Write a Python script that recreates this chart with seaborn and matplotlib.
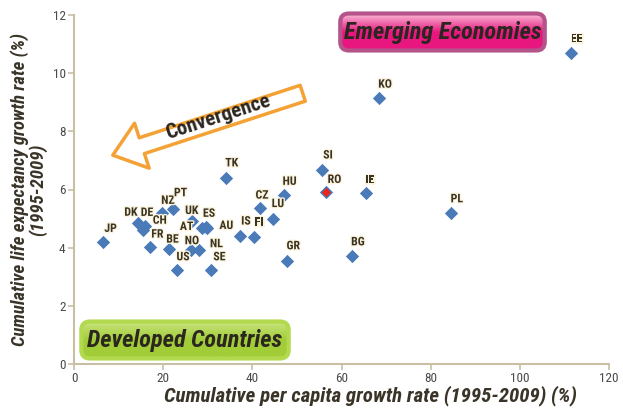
import numpy as np
import pandas as pd
import matplotlib
matplotlib.use("Agg")
import matplotlib.pyplot as plt
import matplotlib.patheffects as pe
from matplotlib import font_manager as fm
from matplotlib.patches import FancyBboxPatch, FancyArrowPatch
import seaborn as sns

# data
countries = ["EE", "KO", "PL", "IE", "BG", "SI", "RO", "HU", "TK", "CZ", "LU", "GR",
             "IS", "FI", "AU", "ES", "AT", "UK", "NZ", "PT", "DK", "DE", "CH", "FR",
             "BE", "JP", "US", "NO", "NL", "SE"]
gdp_growth = [111.4, 68.4, 84.5, 65.4, 62.3, 55.6, 56.6, 47.0, 34.0, 41.7, 44.6, 47.8,
              37.2, 40.4, 29.9, 29.6, 28.6, 26.4, 19.7, 22.3, 14.3, 15.9, 15.4, 17.1,
              21.4, 6.6, 23.1, 26.2, 28.1, 30.8]
life_growth = [10.7, 9.14, 5.2, 5.88, 3.72, 6.67, 5.9, 5.8, 6.4, 5.36, 5.0, 3.55,
               4.4, 4.36, 4.66, 4.7, 4.66, 4.9, 5.18, 5.34, 4.84, 4.73, 4.6, 4.02,
               3.95, 4.18, 3.24, 3.93, 3.93, 3.24]
highlight = ["RO"]

# label offsets in pixels (layout only)
label_off = {"EE": (6, 14), "KO": (6, 14), "PL": (6, 14), "IE": (4, 13), "BG": (6, 14),
             "SI": (6, 15), "RO": (8, 13), "HU": (6, 14), "TK": (6, 15), "CZ": (2, 13),
             "LU": (5, 15), "GR": (6, 15), "IS": (6, 15), "FI": (5, 15), "AU": (19, 3),
             "ES": (3, 14), "AT": (-15, 2), "UK": (0, 11), "NZ": (6, 13), "PT": (7, 16),
             "DK": (-7, 11), "DE": (2, 14), "CH": (17, 10), "FR": (7, 13), "BE": (3, 10),
             "JP": (7, 14), "US": (6, 13), "NO": (1, 9), "NL": (17, 6), "SE": (8, 13)}

df = pd.DataFrame({"country": countries, "gdp": gdp_growth, "life": life_growth})
hl = df[df["country"].isin(highlight)]

sns.set_style("white")

# pick a narrow face if one is around, the original uses condensed type
names = {f.name for f in fm.fontManager.ttflist}
narrow, stretch = "DejaVu Sans", "normal"
for cand in ["Liberation Sans Narrow", "Roboto Condensed", "Open Sans Condensed"]:
    if cand in names:
        narrow = cand
        break
else:
    if any(f.name == "DejaVu Sans" and f.stretch == "condensed" for f in fm.fontManager.ttflist):
        stretch = "condensed"
plt.rcParams["font.family"] = [narrow, "DejaVu Sans"]
plt.rcParams["font.stretch"] = stretch

W, H = 623, 409
fig = plt.figure(figsize=(W / 100, H / 100), dpi=100)
ax = fig.add_axes([74 / W, 45 / H, 535 / W, 349 / H])

axis_col = "#c8bfa4"
blue = "#4a7ab8"
sns.scatterplot(data=df, x="gdp", y="life", color=blue,
                marker="D", s=46, linewidth=0, legend=False, ax=ax, zorder=3)
sns.scatterplot(data=hl, x="gdp", y="life", color="#e8261e",
                marker="D", s=22, linewidth=0, legend=False, ax=ax, zorder=3.5)

halo = [pe.withStroke(linewidth=2, foreground="#fbf4df")]
for c, x, y in zip(countries, gdp_growth, life_growth):
    dx, dy = label_off[c]
    ax.annotate(c, (x, y), xytext=(dx, dy), textcoords="offset pixels",
                ha="center", va="center", fontsize=8.5, fontweight="bold",
                color="#3b3322", path_effects=halo, zorder=4)

ax.set_xlim(0, 120)
ax.set_ylim(0, 12)
ax.set_xticks(range(0, 121, 20))
ax.set_yticks(range(0, 13, 2))
for side in ["top", "right"]:
    ax.spines[side].set_visible(False)
for side in ["left", "bottom"]:
    ax.spines[side].set_color(axis_col)
    ax.spines[side].set_linewidth(1.5)
ax.tick_params(axis="both", colors=axis_col, labelcolor="#4a4a4a", labelsize=9.5,
               direction="out", length=4, width=1.2, left=True, bottom=True, pad=2)

ax.set_xlabel("Cumulative per capita growth rate (1995-2009) (%)", fontsize=15,
              fontweight="heavy", style="italic", color="#3a3428", labelpad=0,
              x=(370 - 74) / 535)
ax.set_ylabel("Cumulative life expectancy growth rate (%)\n(1995-2009)", fontsize=13.5,
              fontweight="heavy", style="italic", color="#3a3428", labelpad=4,
              linespacing=0.95)

# convergence arrow
arr = FancyArrowPatch((51.3, 9.31), (8.7, 7.18),
                      arrowstyle="simple,head_length=22,head_width=34,tail_width=12",
                      mutation_scale=1, shrinkA=0, shrinkB=0,
                      facecolor="white", edgecolor="#f4a235", linewidth=2.5, zorder=2)
ax.add_patch(arr)
ax.text(32.3, 8.5, "Convergence", rotation=18, ha="center", va="center",
        fontsize=15, fontweight="heavy", color="#2b2620", zorder=3,
        rotation_mode="anchor")


def label_box(x0, y0, x1, y1, top, bottom, edge, text):
    bax = fig.add_axes([x0 / W, 1 - y1 / H, (x1 - x0) / W, (y1 - y0) / H])
    bax.set_axis_off()
    bax.set_xlim(0, 1)
    bax.set_ylim(0, 1)
    grad = np.linspace(0, 1, 64)[:, None]
    cmap = matplotlib.colors.LinearSegmentedColormap.from_list("g", [bottom, bottom, top])
    img = bax.imshow(grad, extent=[0, 1, 0, 1], origin="lower", aspect="auto",
                     cmap=cmap, zorder=1)
    shape = FancyBboxPatch((0.02, 0.06), 0.96, 0.88,
                           boxstyle="round,pad=0,rounding_size=0.04",
                           transform=bax.transAxes, facecolor="none",
                           edgecolor=edge, linewidth=3, zorder=2,
                           mutation_aspect=(x1 - x0) / (y1 - y0))
    bax.add_patch(shape)
    img.set_clip_path(shape)
    bax.text(0.5, 0.5, text, ha="center", va="center", fontsize=17.5,
             fontweight="heavy", style="italic", color="#2b2620", zorder=3)


label_box(336, 11, 549, 53, "#fbd0e2", "#e8177f", "#b5548a", "Emerging Economies")
label_box(77, 319, 293, 361, "#cfe88c", "#a2cd38", "#b3da4f", "Developed Countries")

fig.savefig("out.png", dpi=100, facecolor="white")
